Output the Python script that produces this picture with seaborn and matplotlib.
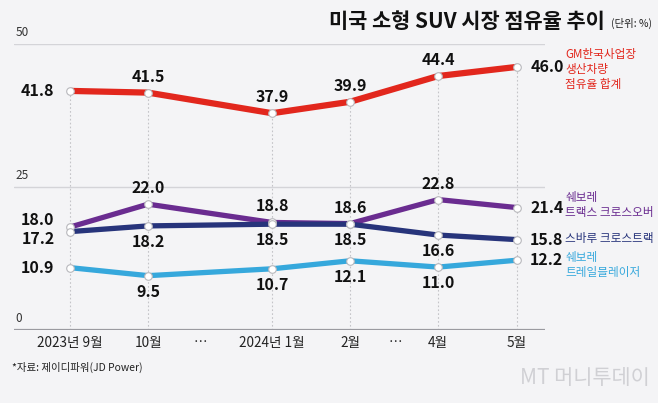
import numpy as np
import pandas as pd
import matplotlib
matplotlib.use('Agg')
import matplotlib.pyplot as plt
import seaborn as sns

# Data
months = ['2023년 9월', '10월', '2024년 1월', '2월', '4월', '5월']
# uneven spacing as in the original graphic
month_pos = [0, 1, 2.59, 3.59, 4.72, 5.73]
gap_pos = [1.67, 4.17]

gm_total = [41.8, 41.5, 37.9, 39.9, 44.4, 46.0]
trax = [18.0, 22.0, 18.8, 18.6, 22.8, 21.4]
crosstrek = [17.2, 18.2, 18.5, 18.5, 16.6, 15.8]
trailblazer = [10.9, 9.5, 10.7, 12.1, 11.0, 12.2]

series_names = ['GM한국사업장\n생산차량\n점유율 합계', '쉐보레\n트랙스 크로스오버',
                '스바루 크로스트랙', '쉐보레\n트레일블레이저']
colors = ['#e2271d', '#6a2c90', '#27347b', '#36a8dc']
# label placement per point: 'a' above, 'b' below, 'l'/'r' beside
placements = [
    ['l', 'a', 'a', 'a', 'a', 'r'],
    ['la', 'a', 'a', 'a', 'a', 'r'],
    ['lb', 'b', 'b', 'b', 'b', 'r'],
    ['l', 'b', 'b', 'b', 'b', 'r'],
]

all_series = [gm_total, trax, crosstrek, trailblazer]
rows = []
for name, vals in zip(series_names, all_series):
    for m, p, v in zip(months, month_pos, vals):
        rows.append({'series': name, 'month': m, 'pos': p, 'value': v})
df = pd.DataFrame(rows)

sns.set_style('white')
plt.rcParams['font.family'] = ['Noto Sans CJK KR', 'DejaVu Sans']

bg = '#f4f4f6'
fig = plt.figure(figsize=(6.58, 4.03), dpi=100, facecolor=bg)
ax = fig.add_axes([14 / 658, 73 / 403, 531 / 658, 286 / 403])
ax.set_facecolor(bg)

ax.set_xlim(-0.72, 6.09)
ax.set_ylim(0, 50)

# horizontal gridlines
for y in [25, 50]:
    ax.axhline(y, color='#d4d4d8', lw=1.0, zorder=0)
ax.axhline(0, color='#9a9aa0', lw=1.6, zorder=1)

# vertical dotted lines
ax.vlines(month_pos, 0, gm_total, colors='#c4c4c8', linestyles=(0, (1.5, 2)), lw=0.8, zorder=0)

widths = [4.5, 3.8, 3.8, 3.8]
sns.lineplot(data=df, x='pos', y='value', hue='series', palette=colors,
             hue_order=series_names, linewidth=4, legend=False, ax=ax,
             sort=False, zorder=3)
for line, w in zip(ax.get_lines()[-4:], widths):
    line.set_linewidth(w)
    line.set_solid_capstyle('butt')

for vals, c in zip(all_series, colors):
    ax.scatter(month_pos, vals, s=30, facecolor='white', edgecolor='#b8b8bc',
               linewidth=0.8, zorder=5)

# value labels
num_font = dict(fontsize=11.5, fontweight='bold', color='#111111')
for vals, pl in zip(all_series, placements):
    for p, v, how in zip(month_pos, vals, pl):
        txt = f'{v:.1f}'
        if how == 'l':
            ax.text(p - 0.2, v, txt, ha='right', va='center', **num_font)
        elif how == 'la':
            ax.text(p - 0.2, v + 1.3, txt, ha='right', va='center', **num_font)
        elif how == 'lb':
            ax.text(p - 0.2, v - 1.3, txt, ha='right', va='center', **num_font)
        elif how == 'r':
            ax.text(p + 0.17, v, txt, ha='left', va='center', **num_font)
        elif how == 'a':
            ax.text(p, v + 1.4, txt, ha='center', va='bottom', **num_font)
        else:
            ax.text(p, v - 1.4, txt, ha='center', va='top', **num_font)

# series names on the right
label_ys = [45.6, 21.9, 16.0, 11.4]
for name, c, ly in zip(series_names, colors, label_ys):
    ax.text(6.35, ly, name, ha='left', va='center', fontsize=8.4, color=c,
            linespacing=1.2, clip_on=False)

# axis ticks
ax.set_xticks(month_pos + gap_pos)
ax.set_xticklabels(months + ['…', '…'], fontsize=9.8, color='#222222')
ax.tick_params(axis='x', length=0, pad=4)
ax.set_yticks([])
ax.set_xlabel('')
ax.set_ylabel('')
for s in ax.spines.values():
    s.set_visible(False)

for y in [0, 25, 50]:
    ax.text(-0.7, y + 0.8, str(y), ha='left', va='bottom', fontsize=8.5, color='#333333')

# title
fig.text(605 / 658, 1 - 21 / 403, '미국 소형 SUV 시장 점유율 추이', ha='right', va='center',
         fontsize=15, fontweight='bold', color='#111111')
fig.text(611 / 658, 1 - 23 / 403, '(단위: %)', ha='left', va='center', fontsize=7.5,
         color='#222222')

# source and watermark
fig.text(12 / 658, 1 - 367 / 403, '*자료: 제이디파워(JD Power)', ha='left', va='center',
         fontsize=7.5, color='#222222')
fig.text(650 / 658, 1 - 378 / 403, 'MT 머니투데이', ha='right', va='center',
         fontsize=15, color='#d0d0d4', fontstyle='italic')

fig.savefig('out.png', dpi=100, facecolor=bg)
